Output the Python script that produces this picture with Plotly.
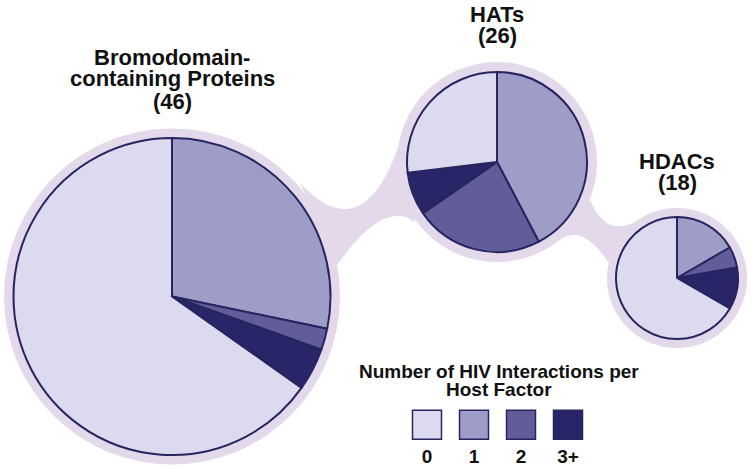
import plotly.graph_objects as go

# ---- data ----
categories = ["0", "1", "2", "3+"]
groups = ["Bromodomain-containing Proteins", "HATs", "HDACs"]
group_totals = [46, 26, 18]
counts_bromo = [30, 13, 1, 2]   # per category 0,1,2,3+
counts_hats = [7, 11, 6, 2]
counts_hdacs = [12, 3, 1, 2]
colors = ["#dcdaee", "#9e9dc8", "#605d99", "#282669"]
slice_order = [1, 2, 3, 0]  # clockwise from 12 o'clock

W, H = 753, 470
BG = "#e3d9ea"
EDGE = "#27255f"


def px(x):
    return x / W


def py(y):
    return 1 - y / H


def dom(cx, cy, r):
    return dict(x=[px(cx - r), px(cx + r)], y=[py(cy + r), py(cy - r)])


fig = go.Figure()

pie_specs = [
    (counts_bromo, (172, 296.5, 158.5)),
    (counts_hats, (497, 162, 90)),
    (counts_hdacs, (677, 278, 61)),
]
for counts, (cx, cy, r) in pie_specs:
    fig.add_trace(go.Pie(
        labels=[categories[i] for i in slice_order],
        values=[counts[i] for i in slice_order],
        marker=dict(colors=[colors[i] for i in slice_order],
                    line=dict(color=EDGE, width=2)),
        sort=False, direction="clockwise", rotation=0,
        textinfo="none", hoverinfo="label+value",
        showlegend=False, domain=dom(cx, cy, r),
    ))

# legend squares and labels on a hidden cartesian axis
fig.add_trace(go.Scatter(
    x=list(range(len(categories))), y=[0.647] * len(categories),
    mode="markers",
    marker=dict(symbol="square", size=29, color=colors,
                line=dict(color=EDGE, width=1.5)),
    hoverinfo="skip", showlegend=False, xaxis="x", yaxis="y",
))
fig.add_trace(go.Scatter(
    x=list(range(len(categories))), y=[0.17] * len(categories),
    mode="text", text=categories,
    textfont=dict(family="Liberation Sans", size=19, color="#111111", weight="bold"),
    hoverinfo="skip", showlegend=False, xaxis="x", yaxis="y",
))

# background blob (decoration)
shapes = []
for cx, cy, R in [(172, 296.5, 168), (497, 162, 100), (677, 278, 70)]:
    shapes.append(dict(type="circle", xref="paper", yref="paper",
                       x0=px(cx - R), x1=px(cx + R), y0=py(cy + R), y1=py(cy - R),
                       fillcolor=BG, line=dict(width=0), layer="below"))


def qctrl(p0, mid, p2):
    return (2 * mid[0] - 0.5 * (p0[0] + p2[0]), 2 * mid[1] - 0.5 * (p0[1] + p2[1]))


def bridge(t0, tm, t2, b0, bm, b2):
    c1 = qctrl(t0, tm, t2)
    c2 = qctrl(b2, bm, b0)
    f = lambda p: f"{px(p[0]):.5f},{py(p[1]):.5f}"
    return (f"M {f(t0)} Q {f(c1)} {f(t2)} L {f(b2)} Q {f(c2)} {f(b0)} Z")


shapes.append(dict(type="path", xref="paper", yref="paper", layer="below",
                   fillcolor=BG, line=dict(width=0),
                   path=bridge((300, 183), (360, 205), (405, 126),
                               (337, 265), (380, 221), (415, 222))))
shapes.append(dict(type="path", xref="paper", yref="paper", layer="below",
                   fillcolor=BG, line=dict(width=0),
                   path=bridge((590, 200), (609, 224), (635, 222),
                               (553, 245), (580, 236), (608, 262))))

FONT = "Liberation Sans"
ann = []


def label(text, x, y, size=22):
    ann.append(dict(text=f"<b>{text}</b>", x=px(x), y=py(y), xref="paper", yref="paper",
                    showarrow=False, xanchor="center", yanchor="middle",
                    font=dict(family=FONT, size=size, color="#111111")))


label("Bromodomain-", 172, 57)
label("containing Proteins", 172, 79)
label(f"({group_totals[0]})", 172, 101)
label("HATs", 497, 14)
label(f"({group_totals[1]})", 497, 35)
label("HDACs", 677, 161)
label(f"({group_totals[2]})", 677, 182)
label("Number of HIV Interactions per", 499, 371, size=19)
label("Host Factor", 499, 389, size=19)

fig.update_layout(
    width=W, height=H, margin=dict(l=0, r=0, t=0, b=0),
    paper_bgcolor="white", plot_bgcolor="rgba(0,0,0,0)",
    shapes=shapes, annotations=ann,
    xaxis=dict(domain=[px(427 - 70.5), px(568 + 70.5)], range=[-1.5, 4.5], visible=False, fixedrange=True),
    yaxis=dict(domain=[0, py(400)], range=[0, 1], visible=False, fixedrange=True),
)

fig.write_html("out.html", config={"displayModeBar": False},
               post_script="document.body.style.margin='0';")
